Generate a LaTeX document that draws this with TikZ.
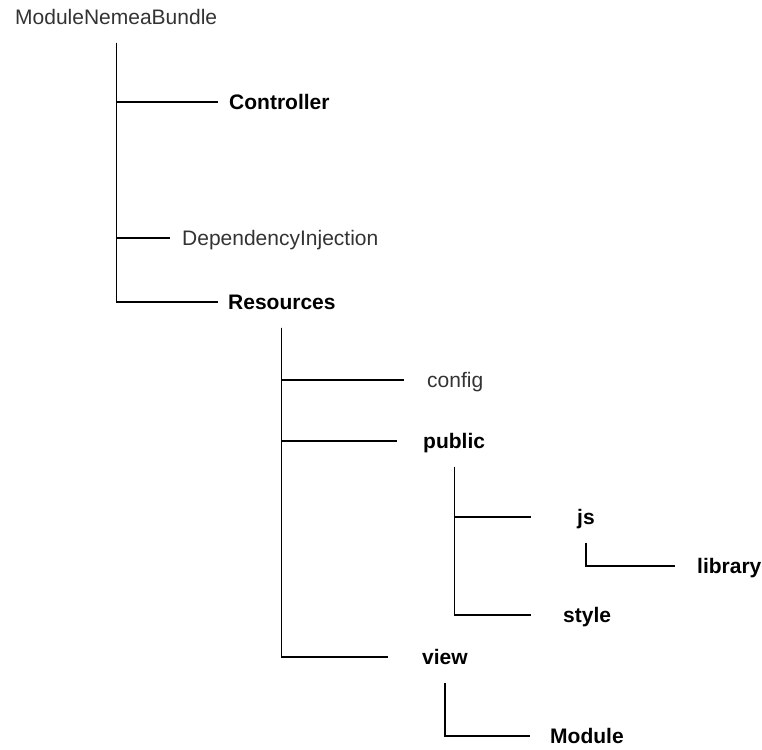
\documentclass[tikz,border=0pt]{standalone}
\usepackage{fontspec}
\setmainfont{Liberation Sans}
\usepackage{tikz}

\tikzset{
  leaf/.style={anchor=west, inner sep=0pt, text height=15pt, text depth=0pt,
    font=\fontsize{21}{25}\selectfont, text=black!80},
  folder/.style={leaf, font=\fontsize{21}{25}\selectfont\bfseries, text=black},
  branch/.style={line width=1.1pt, shorten <=18pt}
}

\begin{document}
\begin{tikzpicture}[x=1pt,y=1pt,yscale=-1,xscale=1]
\path[use as bounding box] (0,0) rectangle (762,749);

% Text Node
\node [leaf] (bundle) at (15,17) {ModuleNemeaBundle};
% Text Node
\node [folder] (controller) at (229,102) {Controller};
% Text Node
\node [leaf] (depinj) at (182,238) {DependencyInjection};
% Text Node
\node [folder] (resources) at (228,302) {Resources};
% Text Node
\node [leaf] (config) at (427,380) {config};
% Text Node
\node [folder] (public) at (423,441) {public};
% Text Node
\node [folder] (js) at (577,517) {js};
% Text Node
\node [folder] (library) at (697,566) {library};
% Text Node
\node [folder] (style) at (563,615) {style};
% Text Node
\node [folder] (view) at (422,657) {view};
% Text Node
\node [folder] (module) at (550,736) {Module};

%Straight Lines
\draw [branch] (bundle.south) |- ([xshift=-11pt]controller.west);
\draw [branch] (bundle.south) |- ([xshift=-12pt]depinj.west);
\draw [branch] (bundle.south) |- ([xshift=-10pt]resources.west);
%Straight Lines
\draw [branch] (resources.south) |- ([xshift=-23pt]config.west);
\draw [branch] (resources.south) |- ([xshift=-26pt]public.west);
\draw [branch] (resources.south) |- ([xshift=-34pt]view.west);
%Straight Lines
\draw [branch] (public.south) |- ([xshift=-46pt]js.west);
\draw [branch] (public.south) |- ([xshift=-32pt]style.west);
%Straight Lines
\draw [branch] (js.south) |- ([xshift=-22pt]library.west);
%Straight Lines
\draw [branch] (view.south) |- ([xshift=-20pt]module.west);

\end{tikzpicture}
\end{document}
